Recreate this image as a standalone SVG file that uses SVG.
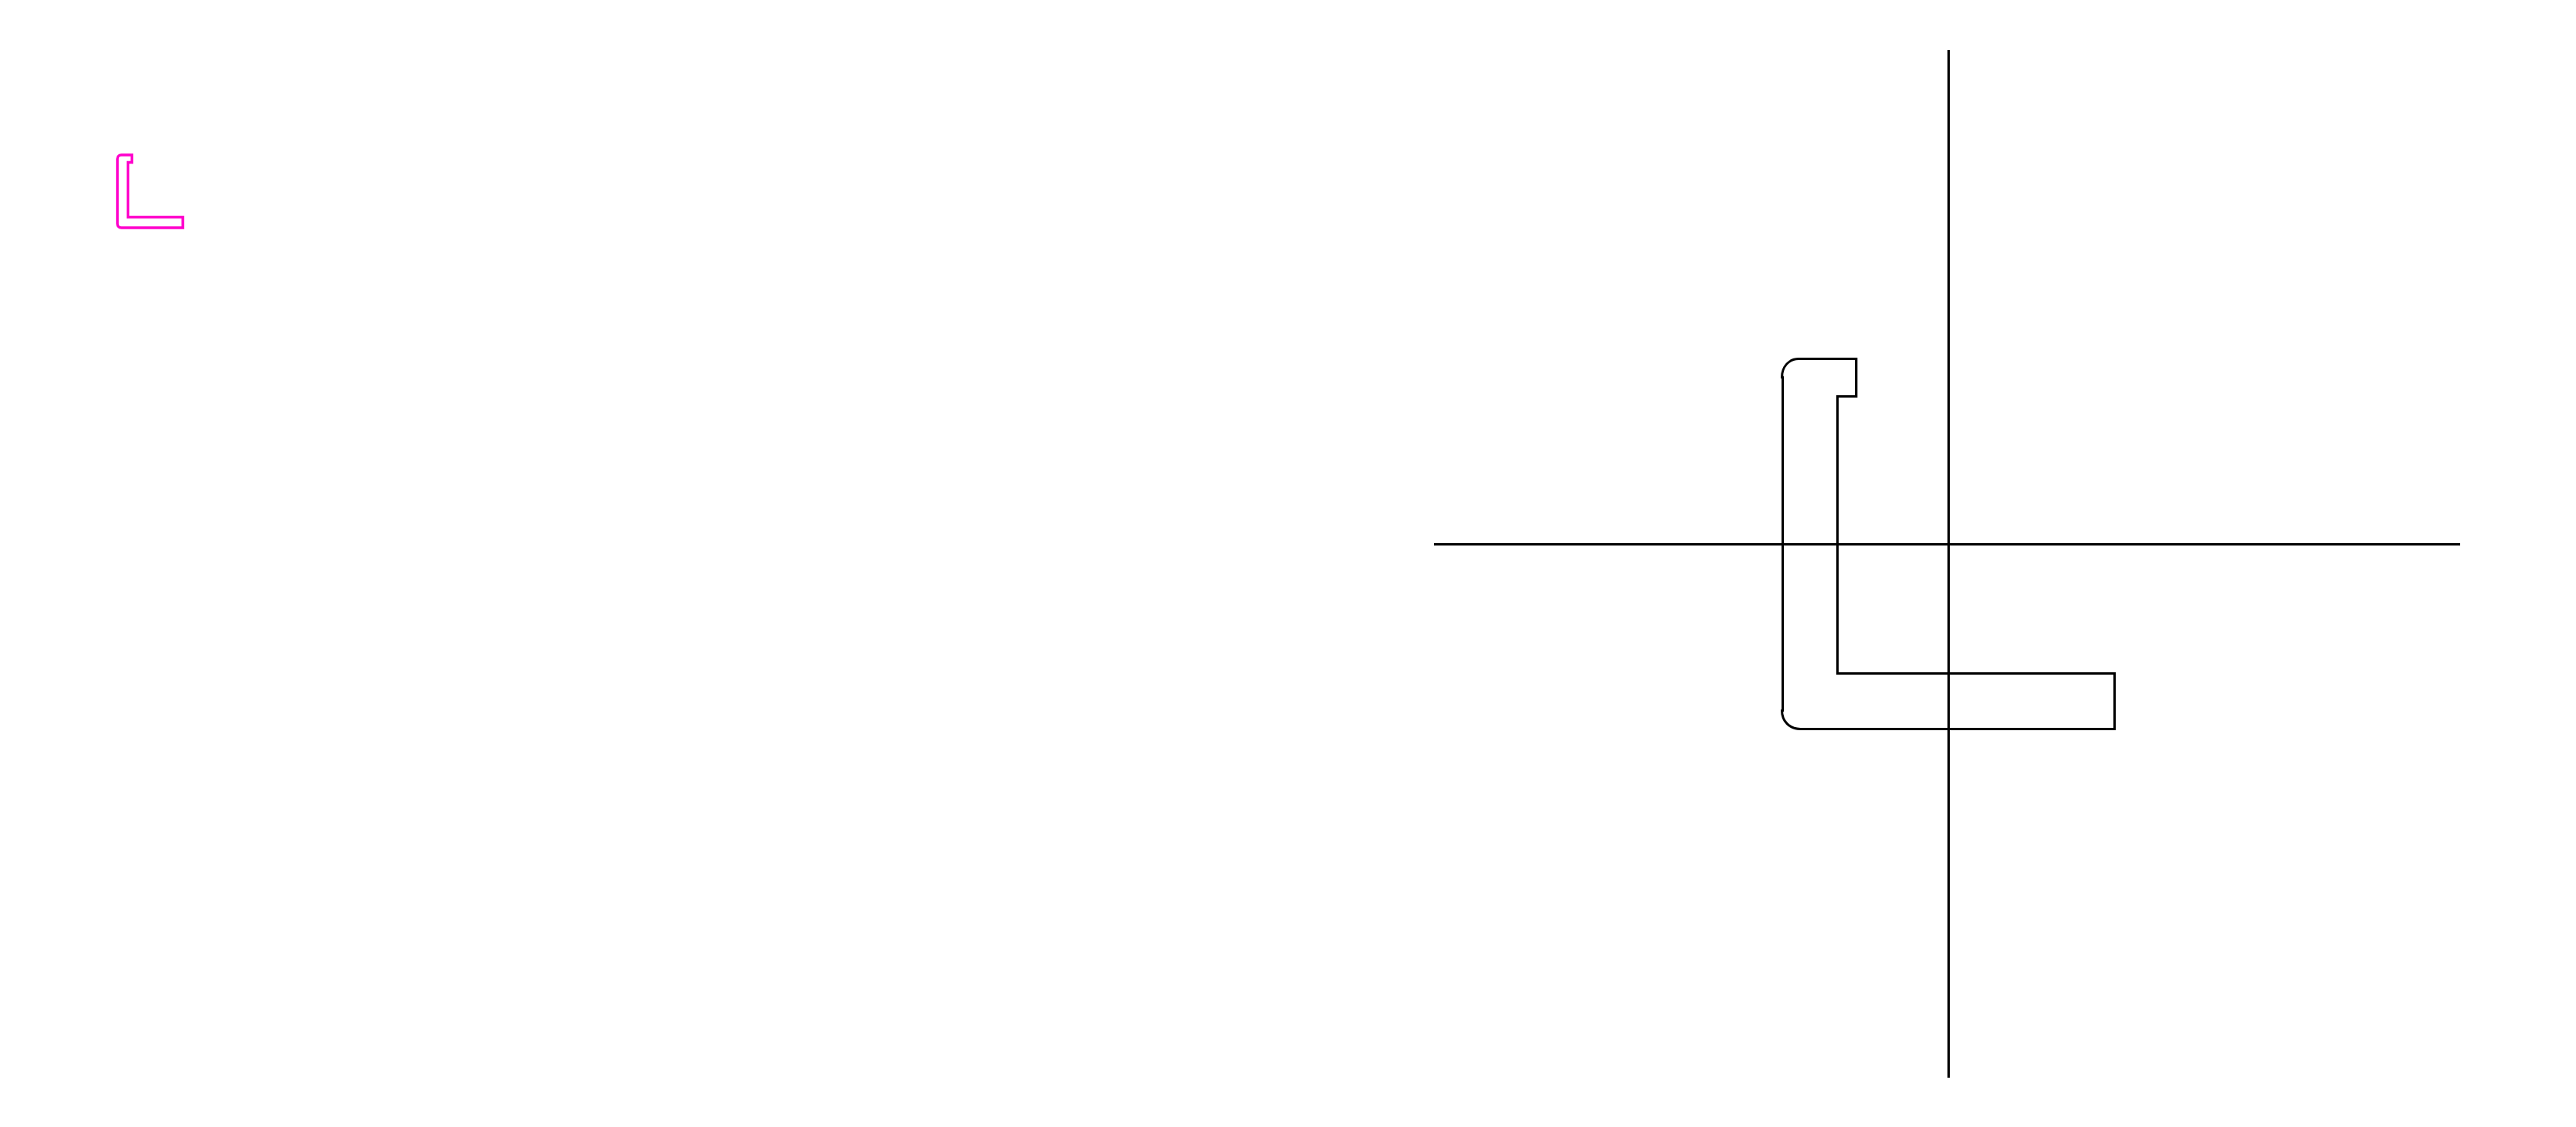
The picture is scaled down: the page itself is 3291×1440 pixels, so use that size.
<svg xmlns="http://www.w3.org/2000/svg" width="3291" height="1440" viewBox="0 0 3291 1440">
<style>
.o{fill:none;stroke-linejoin:miter;stroke-linecap:butt}
.k{stroke:#000;stroke-width:3}
.m{stroke:#ff00cc;stroke-width:3.5}
</style>
<rect width="3291" height="1440" fill="#fff"/>
<g id="small-profile">
<path class="o m" d="M150 203C150 200 152 198 155 198H168.500V207.500H163.500V277.500H233.500V291H155C152 291 150 289 150 286Z"/>
</g>
<g id="axes">
<path class="o k" d="M1832 695.500H3143"/>
<path class="o k" d="M2489.500 64V1377"/>
</g>
<g id="large-profile">
<path class="o k" d="M2276.500 482C2276.500 469 2285 458.500 2298 458.500H2371.500V506.500H2347.500V860.500H2701.500V931.500H2300C2286 931.500 2276.500 921 2276.500 908L2277.500 908V482Z"/>
</g>
</svg>
